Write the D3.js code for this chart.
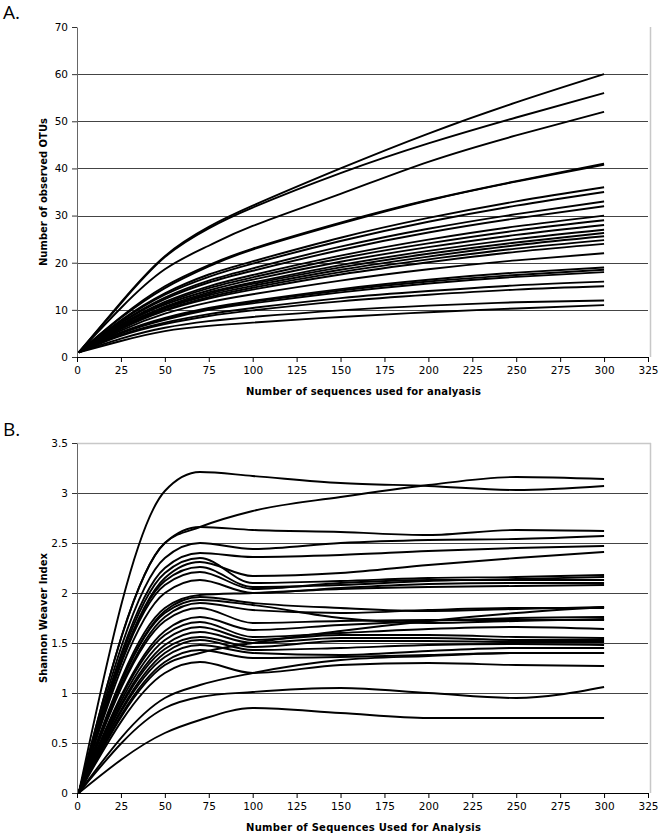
<!DOCTYPE html>
<html><head><meta charset="utf-8">
<script src="https://cdn.jsdelivr.net/npm/d3@7"></script>
<style>body{margin:0;background:#fff}svg{display:block}</style>
</head><body>
<svg id="c" width="662" height="836"></svg>
<script>
// ---------- DATA ----------
const xTicks = [0,25,50,75,100,125,150,175,200,225,250,275,300,325];
const yTicksA = [0,10,20,30,40,50,60,70];
const yTicksB = [0,0.5,1,1.5,2,2.5,3,3.5];
const titleAx = "Number of sequences used for analyasis";
const titleAy = "Number of observed OTUs";
const titleBx = "Number of Sequences Used for Analysis";
const titleBy = "Shannon Weaver Index";

// Panel A: observed OTUs at these numbers of sequences
const seqA = [1,25,50,75,100,150,200,250,300];
const otuA = [
  [1,11.6,21.4,27.6,32.1,40.0,47.4,54.0,60.0],
  [1,11.4,21.2,27.3,31.7,39.0,45.3,50.8,56.0],
  [1,10.4,18.6,23.6,27.8,34.6,41.4,47.0,52.0],
  [1,8.5,15.0,19.5,23.0,28.5,33.3,37.3,41.0],
  [1,8.3,14.6,19.2,22.8,28.3,33.2,37.2,40.8],
  [1,7.8,13.5,17.5,20.3,25.3,29.5,33.0,36.0],
  [1,7.6,13.2,17.0,19.8,24.6,28.7,32.1,35.0],
  [1,7.3,12.6,16.2,18.8,23.4,27.2,30.3,33.0],
  [1,7.2,12.3,15.8,18.3,22.7,26.4,29.4,32.0],
  [1,6.9,11.7,15.0,17.4,21.5,24.9,27.7,30.0],
  [1,6.8,11.4,14.6,16.9,20.9,24.1,26.8,29.0],
  [1,6.6,11.1,14.1,16.4,20.2,23.3,25.9,28.0],
  [1,6.4,10.7,13.7,15.8,19.5,22.5,25.0,27.0],
  [1,6.3,10.5,13.4,15.5,19.0,21.9,24.3,26.3],
  [1,6.2,10.3,13.1,15.1,18.5,21.3,23.7,25.6],
  [1,6.1,10.0,12.7,14.7,18.0,20.7,23.0,24.8],
  [1,5.9,9.8,12.4,14.3,17.5,20.1,22.3,24.0],
  [1,5.6,9.2,11.6,13.3,16.2,18.6,20.5,22.0],
  [1,5.2,8.3,10.4,11.9,14.4,16.4,17.9,19.0],
  [1,5.1,8.1,10.2,11.7,14.1,16.0,17.4,18.5],
  [1,5.0,7.9,10.0,11.4,13.7,15.6,17.0,18.0],
  [1,4.7,7.3,9.1,10.4,12.5,14.0,15.2,16.0],
  [1,4.5,7.0,8.7,9.9,11.8,13.2,14.3,15.0],
  [1,3.9,6.2,7.6,8.5,9.9,10.9,11.6,12.0],
  [1,3.4,5.5,6.6,7.3,8.5,9.5,10.3,11.0]
];

// Panel B: Shannon-Weaver index at these numbers of sequences
const seqB = [1,50,70,100,150,200,250,300];
const shannonB = [
  [0,3.02,3.21,3.17,3.10,3.07,3.03,3.07],
  [0,2.50,2.66,2.82,2.96,3.08,3.16,3.14],
  [0,2.50,2.66,2.63,2.61,2.58,2.63,2.62],
  [0,2.35,2.50,2.44,2.50,2.53,2.54,2.57],
  [0,2.25,2.40,2.36,2.38,2.42,2.45,2.47],
  [0,2.15,2.31,2.17,2.20,2.28,2.35,2.41],
  [0,2.20,2.35,2.10,2.12,2.15,2.16,2.18],
  [0,2.12,2.26,2.06,2.08,2.12,2.14,2.16],
  [0,2.08,2.21,2.04,2.10,2.13,2.13,2.13],
  [0,2.00,2.13,2.00,2.05,2.09,2.10,2.10],
  [0,1.85,1.98,2.00,2.04,2.06,2.07,2.08],
  [0,1.82,1.96,1.90,1.85,1.82,1.84,1.86],
  [0,1.80,1.93,1.88,1.75,1.70,1.72,1.74],
  [0,1.76,1.90,1.83,1.80,1.83,1.85,1.85],
  [0,1.72,1.85,1.70,1.72,1.73,1.73,1.73],
  [0,1.62,1.76,1.63,1.68,1.72,1.75,1.76],
  [0,1.58,1.71,1.56,1.60,1.64,1.66,1.64],
  [0,1.53,1.66,1.53,1.58,1.58,1.56,1.55],
  [0,1.48,1.61,1.50,1.55,1.55,1.53,1.53],
  [0,1.44,1.56,1.46,1.52,1.52,1.51,1.51],
  [0,1.40,1.53,1.43,1.45,1.48,1.49,1.48],
  [0,1.36,1.48,1.40,1.38,1.42,1.45,1.45],
  [0,1.31,1.43,1.35,1.36,1.38,1.40,1.40],
  [0,1.28,1.40,1.50,1.62,1.72,1.80,1.86],
  [0,1.20,1.31,1.20,1.28,1.30,1.28,1.27],
  [0,0.95,1.08,1.20,1.33,1.37,1.40,1.40],
  [0,0.85,0.96,1.01,1.05,1.00,0.95,1.06],
  [0,0.60,0.73,0.85,0.80,0.75,0.75,0.75]
];

// ---------- DRAW ----------
const svg = d3.select("#c");
const FONT = "'DejaVu Sans', Verdana, sans-serif";

function panel(opt){
  const x = d3.scaleLinear().domain([0,325]).range([77,648]);
  const y = d3.scaleLinear().domain(opt.ydomain).range([opt.bottom, opt.top]);
  const g = svg.append("g");

  g.append("g").selectAll("line").data(opt.yticks.filter(v=>v>opt.ydomain[0] && v<opt.ydomain[1]))
    .join("line").attr("x1",x(0)).attr("x2",x(325))
    .attr("y1",d=>Math.round(y(d))+0.5).attr("y2",d=>Math.round(y(d))+0.5)
    .attr("stroke","#444").attr("stroke-width",1);

  g.append("line").attr("x1",x(325)+2.5).attr("x2",x(325)+2.5)
    .attr("y1",y(opt.ydomain[1])).attr("y2",y(0)).attr("stroke","#c8c8c8").attr("stroke-width",1.5);
  if(opt.topBorder){
    g.append("line").attr("x1",x(0)).attr("x2",x(325)+3)
      .attr("y1",Math.round(y(opt.ydomain[1]))+0.5).attr("y2",Math.round(y(opt.ydomain[1]))+0.5)
      .attr("stroke","#c8c8c8").attr("stroke-width",1.5);
  }

  const line = d3.line().x((d,i)=>x(opt.xs[i])).y(d=>y(d)).curve(opt.curve);
  g.append("g").selectAll("path").data(opt.series).join("path")
    .attr("d",line).attr("fill","none").attr("stroke","#000").attr("stroke-width",1.9);

  const ya = d3.axisLeft(y).tickValues(opt.yticks).tickSize(5).tickSizeOuter(0).tickFormat(opt.yfmt);
  const yg = g.append("g").attr("transform",`translate(${x(0)},0)`).call(ya);
  yg.select(".domain").attr("stroke","#666");
  yg.selectAll(".tick line").attr("stroke","#333");
  yg.selectAll("text").attr("font-family",FONT).attr("font-size",10.5).attr("fill","#000").attr("dx",-1);

  const xa = d3.axisBottom(x).tickValues(xTicks).tickSize(5).tickSizeOuter(0);
  const xg = g.append("g").attr("transform",`translate(0,${y(0)})`).call(xa);
  xg.select(".domain").attr("stroke","#000");
  xg.selectAll(".tick line").attr("stroke","#000");
  xg.selectAll("text").attr("font-family",FONT).attr("font-size",10.5).attr("fill","#000").attr("dy","0.9em");

  g.append("text").attr("x",(x(0)+x(325))/2+1).attr("y",opt.xTitleY)
    .attr("text-anchor","middle").attr("font-family",FONT).attr("font-weight","bold")
    .attr("font-size",10).attr("textLength",opt.xTitleLen).attr("fill","#000").text(opt.xTitle);
  g.append("text").attr("transform",`translate(47,${(opt.top+opt.bottom)/2}) rotate(-90)`)
    .attr("text-anchor","middle").attr("font-family",FONT).attr("font-weight","bold")
    .attr("font-size",10).attr("fill","#000").text(opt.yTitle);

  svg.append("text").attr("x",3).attr("y",opt.letterY).attr("font-family","'Open Sans', sans-serif")
    .attr("font-size",19).attr("fill","#000").text(opt.letter);
}

panel({ydomain:[0,70], top:27, bottom:357, yticks:yTicksA, yfmt:d3.format("d"),
  xs:seqA, series:otuA, curve:d3.curveNatural, xTitle:titleAx, yTitle:titleAy, xTitleY:395, xTitleLen:235,
  letter:"A.", letterY:19, topBorder:false});
panel({ydomain:[0,3.5], top:443, bottom:793, yticks:yTicksB, yfmt:d=>String(d),
  xs:seqB, series:shannonB, curve:d3.curveMonotoneX, xTitle:titleBx, yTitle:titleBy, xTitleY:831, xTitleLen:235,
  letter:"B.", letterY:436, topBorder:true});
</script>
</body></html>
